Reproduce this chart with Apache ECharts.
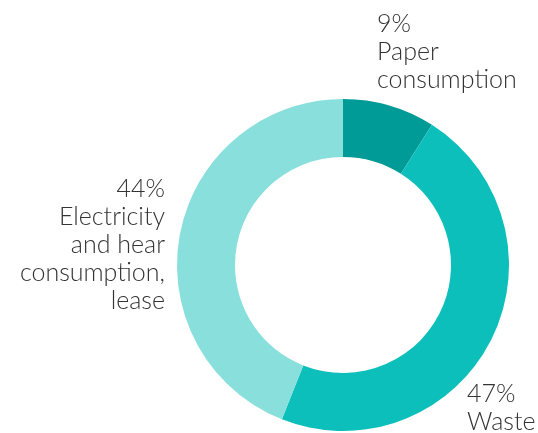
<!DOCTYPE html>
<html>
<head>
<meta charset="utf-8">
<script src="https://cdn.jsdelivr.net/npm/echarts@6/dist/echarts.min.js"></script>
<style>
  html, body { margin: 0; padding: 0; background: #fff; }
  #chart { width: 538px; height: 433px; }
</style>
</head>
<body>
<div id="chart"></div>
<script>
// shares of the footprint, clockwise from 12 o'clock
const categories = ['Paper\nconsumption', 'Waste', 'Electricity\nand hear\nconsumption,\nlease'];
const shares = [9, 47, 44];
const colors = ['#009a97', '#0cbfbb', '#88dfdc'];

// where each label block sits (left/right edge, top)
const labelSpots = [
  { x: 377, y: 10, align: 'left' },
  { x: 467, y: 380, align: 'left' },
  { x: 165, y: 175, align: 'right' }
];

const chart = echarts.init(document.getElementById('chart'));

chart.setOption({
  animation: false,
  series: [{
    type: 'pie',
    center: [343, 265],
    radius: [108, 166],
    startAngle: 90,
    clockwise: true,
    avoidLabelOverlap: false,
    data: categories.map((name, i) => ({
      name: name,
      value: shares[i],
      itemStyle: { color: colors[i] }
    })),
    label: {
      show: true,
      position: 'outside',
      formatter: p => p.value + '%\n' + p.name,
      fontFamily: 'Lato',
      fontWeight: 300,
      fontSize: 25,
      lineHeight: 28,
      color: '#333333'
    },
    labelLine: { show: false },
    labelLayout: params => {
      const s = labelSpots[params.dataIndex];
      return { x: s.x, y: s.y, align: s.align, verticalAlign: 'top' };
    },
    emphasis: { disabled: true }
  }]
});
</script>
</body>
</html>
